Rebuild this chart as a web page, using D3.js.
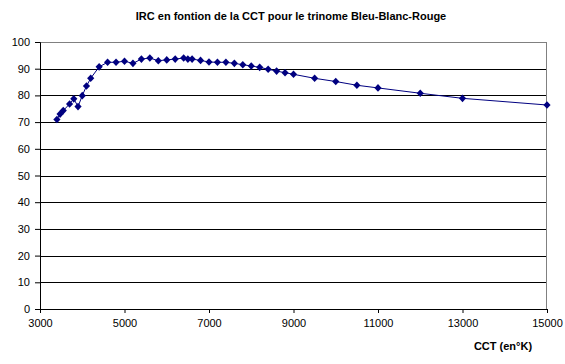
<!DOCTYPE html>
<html>
<head>
<meta charset="utf-8">
<script src="https://cdn.jsdelivr.net/npm/d3@7/dist/d3.min.js"></script>
<style>
  body { margin: 0; background: #fff; }
  svg { display: block; font-family: "Liberation Sans", Arial, sans-serif; }
</style>
</head>
<body>
<div id="chart"></div>
<script>
// CCT (K) and IRC values
const cct = [3400, 3475, 3550, 3700, 3800, 3900, 4000, 4100, 4200, 4400,
             4600, 4800, 5000, 5200, 5400, 5600, 5800, 6000, 6200, 6400,
             6500, 6600, 6800, 7000, 7200, 7400, 7600, 7800, 8000, 8200,
             8400, 8600, 8800, 9000, 9500, 10000, 10500, 11000, 12000, 13000, 15000];
const irc = [71.0, 73.0, 74.3, 76.8, 78.7, 75.8, 79.9, 83.5, 86.4, 90.7,
             92.4, 92.4, 92.8, 92.0, 93.6, 94.0, 93.0, 93.3, 93.6, 94.0,
             93.6, 93.6, 93.1, 92.5, 92.4, 92.4, 92.0, 91.5, 91.0, 90.5,
             89.8, 89.1, 88.5, 87.9, 86.4, 85.2, 83.8, 82.8, 80.8, 78.9, 76.4];
const xTicks = [3000, 5000, 7000, 9000, 11000, 13000, 15000];
const yTicks = [0, 10, 20, 30, 40, 50, 60, 70, 80, 90, 100];

const W = 565, H = 364;
const margin = {top: 42, right: 18, bottom: 55, left: 40};
const width = W - margin.left - margin.right;
const height = H - margin.top - margin.bottom;

const data = cct.map((c, i) => ({cct: c, irc: irc[i]}));

const svg = d3.select('#chart').append('svg')
    .attr('width', W)
    .attr('height', H);

const g = svg.append('g')
    .attr('transform', 'translate(' + margin.left + ',' + margin.top + ')');

const x = d3.scaleLinear().domain([3000, 15000]).range([0, width]);
const y = d3.scaleLinear().domain([0, 100]).range([height, 0]);

// horizontal gridlines
g.selectAll('.grid')
    .data(yTicks.filter(t => t > 0 && t < 100))
    .enter().append('line')
    .attr('x1', 0).attr('x2', width)
    .attr('y1', d => Math.round(y(d)) + 0.5)
    .attr('y2', d => Math.round(y(d)) + 0.5)
    .attr('stroke', '#000')
    .attr('shape-rendering', 'crispEdges');

// plot border (top and right in grey)
g.append('path')
    .attr('d', 'M0,0.5H' + (width - 0.5) + 'V' + height)
    .attr('fill', 'none')
    .attr('stroke', '#808080')
    .attr('shape-rendering', 'crispEdges');

// axes
const xAxis = g.append('g')
    .attr('transform', 'translate(0,' + height + ')')
    .call(d3.axisBottom(x).tickValues(xTicks).tickSize(4).tickPadding(6).tickFormat(d3.format('d')));
const yAxis = g.append('g')
    .call(d3.axisLeft(y).tickValues(yTicks).tickSize(5).tickPadding(5));

[xAxis, yAxis].forEach(a => {
  a.select('.domain').attr('stroke', '#000');
  a.selectAll('.tick line').attr('stroke', '#000');
  a.selectAll('text')
      .attr('fill', '#000')
      .style('font-size', '11px')
      .style('font-family', '"Liberation Sans", Arial, sans-serif');
});

// series line
g.append('path')
    .datum(data)
    .attr('fill', 'none')
    .attr('stroke', '#000080')
    .attr('stroke-width', 1)
    .attr('d', d3.line().x(d => x(d.cct)).y(d => y(d.irc)));

// diamond markers
g.selectAll('.pt')
    .data(data)
    .enter().append('path')
    .attr('class', 'pt')
    .attr('transform', d => 'translate(' + x(d.cct) + ',' + y(d.irc) + ')')
    .attr('d', 'M0,-3.8L3.6,0L0,3.8L-3.6,0Z')
    .attr('fill', '#000080');

// title
svg.append('text')
    .attr('x', 291)
    .attr('y', 20)
    .attr('text-anchor', 'middle')
    .style('font-size', '11px')
    .style('font-weight', 'bold')
    .text('IRC en fontion de la CCT pour le trinome Bleu-Blanc-Rouge');

// x axis title
svg.append('text')
    .attr('x', 503)
    .attr('y', 350)
    .attr('text-anchor', 'middle')
    .style('font-size', '11px')
    .style('font-weight', 'bold')
    .text('CCT (en°K)');
</script>
</body>
</html>
